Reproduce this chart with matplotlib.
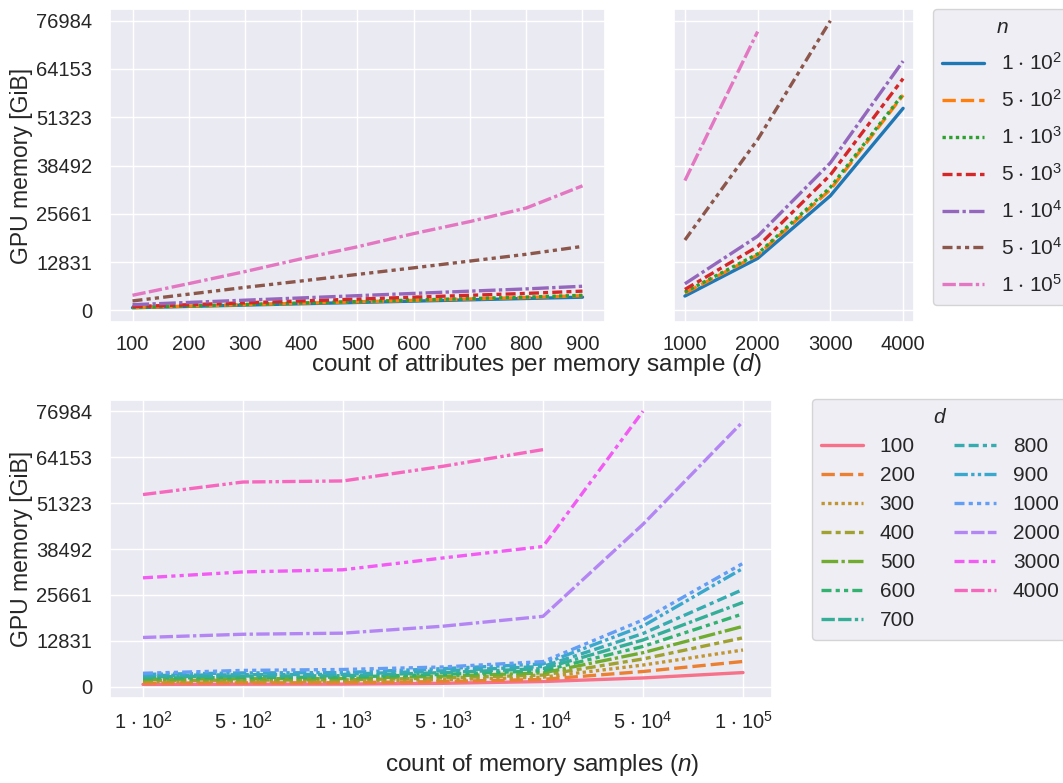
import itertools
import numpy as np
import matplotlib
matplotlib.use("Agg")
import matplotlib.pyplot as plt
import seaborn as sns

# sample counts n and attribute counts d
n_values = [1e2, 5e2, 1e3, 5e3, 1e4, 5e4, 1e5]
n_labels = [r"$1\hspace{0.1}\cdot\hspace{0.1}10^{2}$",
            r"$5\hspace{0.1}\cdot\hspace{0.1}10^{2}$",
            r"$1\hspace{0.1}\cdot\hspace{0.1}10^{3}$",
            r"$5\hspace{0.1}\cdot\hspace{0.1}10^{3}$",
            r"$1\hspace{0.1}\cdot\hspace{0.1}10^{4}$",
            r"$5\hspace{0.1}\cdot\hspace{0.1}10^{4}$",
            r"$1\hspace{0.1}\cdot\hspace{0.1}10^{5}$"]
d_small = [100, 200, 300, 400, 500, 600, 700, 800, 900]
d_large = [1000, 2000, 3000, 4000]
d_all = d_small + d_large

# GPU memory [GiB] per n, over d = 100..900, 1000, 2000, 3000, 4000
mem_n1e2 = [700, 1050, 1400, 1750, 2100, 2450, 2800, 3150, 3500,
            3800, 13800, 30450, 53700]
mem_n5e2 = [750, 1130, 1510, 1890, 2270, 2650, 3030, 3410, 3900,
            4600, 14700, 32100, 57200]
mem_n1e3 = [780, 1170, 1560, 1950, 2340, 2730, 3120, 3510, 4000,
            4860, 15000, 32700, 57500]
mem_n5e3 = [1000, 1500, 2000, 2500, 3000, 3500, 4000, 4500, 5100,
            5560, 16950, 36000, 61600]
mem_n1e4 = [1500, 2100, 2700, 3300, 3900, 4500, 5100, 5700, 6400,
            7060, 19700, 39200, 66250]
mem_n5e4 = [2500, 4300, 6100, 7800, 9550, 11300, 13100, 14900, 17000,
            18700, 45400, 76984, np.nan]
mem_n1e5 = [4000, 7100, 10300, 13700, 16900, 20400, 23600, 27200, 33100,
            34500, 74100, np.nan, np.nan]

y_max = 76984


def unique_dashes(n):
    dashes = [(None, None), (4, 1.5), (1, 1), (3, 1.25, 1.5, 1.25), (5, 1, 1, 1)]
    p = 3
    while len(dashes) < n:
        a = itertools.combinations_with_replacement([3, 1.25], p)
        b = itertools.combinations_with_replacement([4, 1], p)
        segment_list = itertools.chain(*zip(list(a)[1:-1][::-1], list(b)[1:-1]))
        for segments in segment_list:
            gap = min(segments)
            dashes.append(tuple(itertools.chain(*((s, gap) for s in segments))))
        p += 1
    return dashes[:n]


def draw(ax, x, y, color, dash, label):
    line, = ax.plot(x, y, color=color, lw=2.4, label=label)
    if dash[0] is not None:
        line.set_dashes(dash)
    return line


sns.set_theme(style="darkgrid")
plt.rcParams["font.family"] = ["Liberation Sans", "DejaVu Sans"]
plt.rcParams["mathtext.fontset"] = "custom"
plt.rcParams["mathtext.rm"] = "Liberation Sans"
plt.rcParams["mathtext.it"] = "Liberation Sans:italic"
plt.rcParams["mathtext.fallback"] = "stixsans"

mem = np.array([mem_n1e2, mem_n5e2, mem_n1e3, mem_n5e3, mem_n1e4,
                mem_n5e4, mem_n1e5], dtype=float)
ns = len(d_small)

fig = plt.figure(figsize=(10.63, 7.83), dpi=100)
W, H = 1063, 783


def px_axes(l, t, r, b):
    return fig.add_axes([l / W, 1 - b / H, (r - l) / W, (b - t) / H])


ax_l = px_axes(110, 9, 605, 322)
ax_r = px_axes(674, 9, 914, 322)
ax_b = px_axes(110, 400, 772, 698)

yticks = np.linspace(0, y_max, 7)
ylabels = [f"{v:.0f}" for v in yticks]
ylim = (-3100, 80100)

n_colors = sns.color_palette("tab10", len(n_values))
n_dashes = unique_dashes(len(n_values))
handles = []
for i, lab in enumerate(n_labels):
    h = draw(ax_l, d_small, mem[i, :ns], n_colors[i], n_dashes[i], lab)
    draw(ax_r, d_large, mem[i, ns:], n_colors[i], n_dashes[i], lab)
    handles.append(h)

for ax in (ax_l, ax_r, ax_b):
    ax.set_ylim(*ylim)
    ax.set_yticks(yticks)
    ax.tick_params(axis="y", labelsize=14.5, pad=7)
    ax.tick_params(axis="x", labelsize=14.5, pad=3)
ax_l.set_yticklabels(ylabels)
ax_b.set_yticklabels(ylabels)
ax_r.set_yticklabels([])
ax_l.set_xticks(d_small)
ax_r.set_xticks(d_large)
ax_l.set_ylabel("GPU memory [GiB]", fontsize=16.5, labelpad=2)
fig.text(536 / W, 1 - 365 / H, "count of attributes per memory sample ($d$)",
         ha="center", va="center", fontsize=17.5)

fig.legend(handles=handles, labels=n_labels, title="$n$",
           loc="upper left", bbox_to_anchor=(933 / W, 1 - 9 / H),
           fontsize=15, title_fontsize=15, labelspacing=0.72,
           handlelength=2.0, handletextpad=0.8, borderpad=0.45,
           borderaxespad=0)

d_colors = sns.color_palette("husl", len(d_all))
d_dashes = unique_dashes(len(d_all))
xpos = np.arange(len(n_values))
b_handles = []
for j, d in enumerate(d_all):
    h = draw(ax_b, xpos, mem[:, j], d_colors[j], d_dashes[j], str(d))
    b_handles.append(h)
ax_b.set_xticks(xpos)
ax_b.set_xticklabels(n_labels)
ax_b.set_xlim(-0.33, len(n_values) - 1 + 0.29)
ax_b.set_ylabel("GPU memory [GiB]", fontsize=16.5, labelpad=2)
fig.text(542 / W, 1 - 765 / H, "count of memory samples ($n$)",
         ha="center", va="center", fontsize=17.5)

fig.legend(handles=b_handles, labels=[str(d) for d in d_all], title="$d$",
           loc="upper left", bbox_to_anchor=(812 / W, 1 - 399 / H), ncol=2,
           fontsize=15, title_fontsize=15, labelspacing=0.48,
           handlelength=2.0, handletextpad=0.8, columnspacing=1.9,
           borderpad=0.45, borderaxespad=0)

fig.savefig("out.png", dpi=100)
